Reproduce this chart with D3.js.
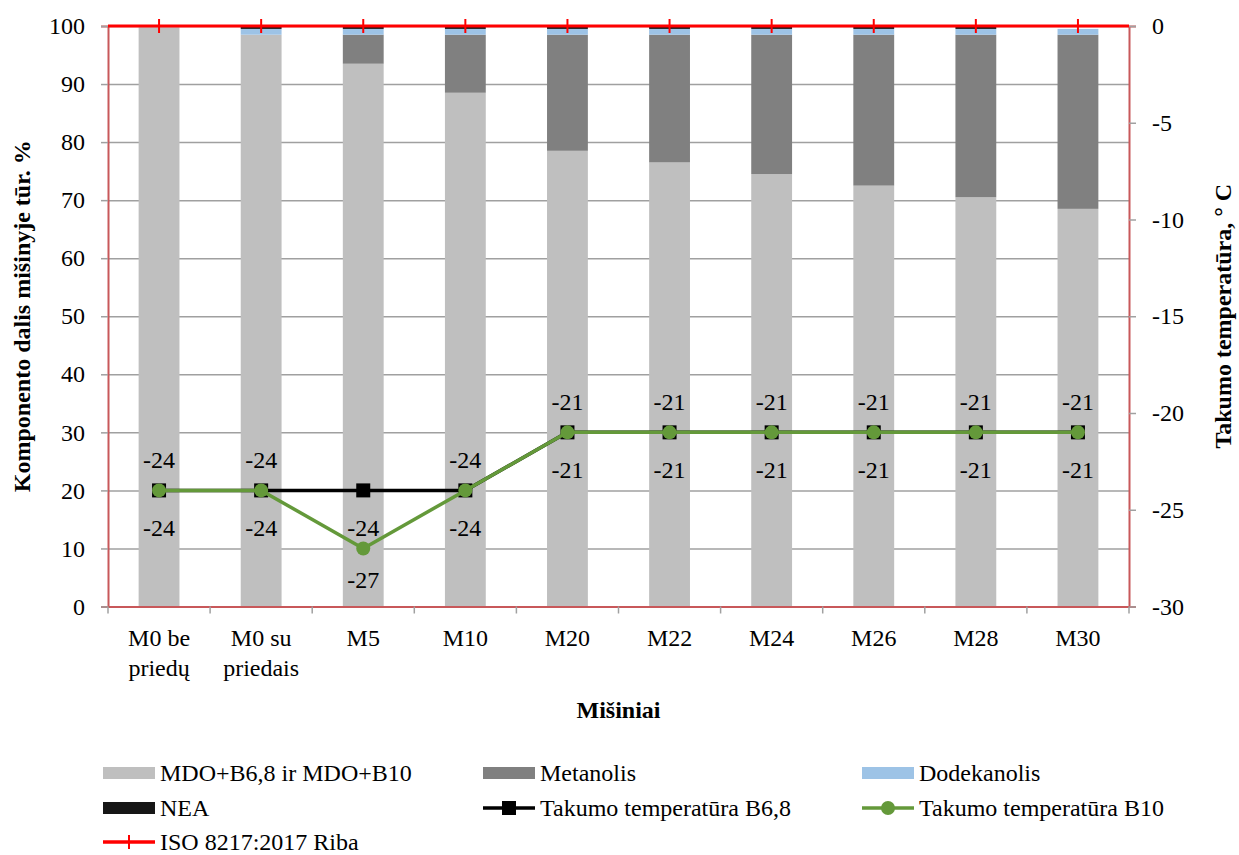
<!DOCTYPE html>
<html><head><meta charset="utf-8">
<script src="https://cdn.jsdelivr.net/npm/d3@7"></script>
<style>
html,body{margin:0;padding:0;background:#fff;}
svg text{font-family:"Liberation Serif","Tinos","Times New Roman","DejaVu Serif",serif !important;fill:#000;}
</style></head>
<body><svg id="c" width="1239" height="855"></svg>
<script>
const categories = ["M0 be priedų","M0 su priedais","M5","M10","M20","M22","M24","M26","M28","M30"];
const categoryLines = [["M0 be","priedų"],["M0 su","priedais"],["M5"],["M10"],["M20"],["M22"],["M24"],["M26"],["M28"],["M30"]];
const mdo = [100, 98.5, 93.5, 88.5, 78.5, 76.5, 74.5, 72.5, 70.5, 68.5];
const metanolis = [0, 0, 5, 10, 20, 22, 24, 26, 28, 30];
const dodekanolis = [0, 1, 1, 1, 1, 1, 1, 1, 1, 1];
const nea = [0.1, 0.5, 0.5, 0.5, 0.5, 0.5, 0.5, 0.5, 0.5, 0];
const tempB68 = [-24, -24, -24, -24, -21, -21, -21, -21, -21, -21];
const tempB10 = [-24, -24, -27, -24, -21, -21, -21, -21, -21, -21];
const isoLimit = [0, 0, 0, 0, 0, 0, 0, 0, 0, 0];
const leftTicks = [0,10,20,30,40,50,60,70,80,90,100];
const rightTicks = [-30,-25,-20,-15,-10,-5,0];
const seriesNames = ["MDO+B6,8 ir MDO+B10","Metanolis","Dodekanolis","NEA","Takumo temperatūra B6,8","Takumo temperatūra B10","ISO 8217:2017 Riba"];

// label placement (style): B6,8 below; B10 above except where below
const b10LabelPos = ["above","above","below","above","above","above","above","above","above","above"];

const FONT = '"Liberation Serif","Tinos","Times New Roman","DejaVu Serif",serif';
const svg = d3.select("#c");
svg.append("rect").attr("width",1239).attr("height",855).attr("fill","#fff");

const L=108, R=1129, T=26, B=606.5;
const FS = 24;
const x = d3.scaleBand().domain(categories).range([L,R]).padding(0);
const yL = d3.scaleLinear().domain([0,100]).range([B,T]);
const yR = d3.scaleLinear().domain([-30,0]).range([B,T]);
const fmt = d=>String(d);

const colors = {mdo:"#bfbfbf", met:"#808080", dod:"#9dc3e6", nea:"#161616", b68:"#000000", b10:"#64993a", iso:"#ff0000", axis:"#c8585a", grid:"#a0a0a0"};

// gridlines
svg.append("g").attr("transform",`translate(${L},0)`)
  .call(d3.axisLeft(yL).tickValues(leftTicks).tickSize(-(R-L)).tickFormat(""))
  .call(g=>g.select(".domain").remove())
  .call(g=>g.selectAll("line").attr("stroke",colors.grid).attr("stroke-width",1.5));

// stacked bars
const rows = categories.map((c,i)=>({cat:c, mdo:mdo[i], met:metanolis[i], dod:dodekanolis[i], nea:nea[i]}));
const keys = ["mdo","met","dod","nea"];
const stack = d3.stack().keys(keys)(rows);
const bw = x.bandwidth()*0.4;
svg.append("g").selectAll("g").data(stack).join("g")
  .attr("fill",d=>({mdo:colors.mdo,met:colors.met,dod:colors.dod,nea:colors.nea})[d.key])
  .selectAll("rect").data(d=>d).join("rect")
  .attr("x",d=>x(d.data.cat)+x.bandwidth()/2-bw/2)
  .attr("width",bw)
  .attr("y",d=>yL(d[1]))
  .attr("height",d=>Math.max(0,yL(d[0])-yL(d[1])));

// left axis
const gl = svg.append("g").attr("transform",`translate(${L},0)`)
  .call(d3.axisLeft(yL).tickValues(leftTicks).tickFormat(fmt).tickSize(7).tickPadding(16));
gl.attr("font-family",FONT);
gl.select(".domain").attr("stroke",colors.axis).attr("stroke-width",2);
gl.selectAll(".tick line").attr("stroke",colors.grid).attr("stroke-width",1.5);
gl.selectAll(".tick text").style("font-size",FS+"px").style("font-family",FONT);

// right axis
const gr = svg.append("g").attr("transform",`translate(${R},0)`)
  .call(d3.axisRight(yR).tickValues(rightTicks).tickFormat(fmt).tickSize(7).tickPadding(16));
gr.attr("font-family",FONT);
gr.select(".domain").attr("stroke",colors.axis).attr("stroke-width",2);
gr.selectAll(".tick line").attr("stroke",colors.grid).attr("stroke-width",1.5);
gr.selectAll(".tick text").style("font-size",FS+"px").style("font-family",FONT);

// bottom axis
const gb = svg.append("g").attr("transform",`translate(0,${B})`)
  .call(d3.axisBottom(x).tickSize(0).tickFormat(""));
gb.select(".domain").attr("stroke",colors.axis).attr("stroke-width",2);
const bounds = categories.map(c=>x(c)).concat([R]);
svg.append("g").selectAll("line").data(bounds).join("line")
  .attr("x1",d=>d).attr("x2",d=>d).attr("y1",B).attr("y2",B+7)
  .attr("stroke",colors.grid).attr("stroke-width",1.5);
const cl = svg.append("g").selectAll("text").data(categories).join("text")
  .attr("x",d=>x(d)+x.bandwidth()/2).attr("y",B+39)
  .attr("text-anchor","middle").style("font-size",FS+"px").style("font-family",FONT);
cl.each(function(d,i){
  const t=d3.select(this);
  categoryLines[i].forEach((ln,j)=>{
    t.append("tspan").attr("x",x(d)+x.bandwidth()/2).attr("dy",j?30:0).text(ln);
  });
});

// axis titles
svg.append("text").attr("transform",`translate(30,${(T+B)/2}) rotate(-90)`)
  .attr("text-anchor","middle").style("font-size",FS+"px").style("font-weight","bold").style("font-family",FONT)
  .text("Komponento dalis mišinyje tūr. %");
svg.append("text").attr("transform",`translate(1231,${(T+B)/2}) rotate(-90)`)
  .attr("text-anchor","middle").style("font-size",FS+"px").style("font-weight","bold").style("font-family",FONT)
  .text("Takumo temperatūra, ° C");
svg.append("text").attr("x",(L+R)/2).attr("y",718)
  .attr("text-anchor","middle").style("font-size",FS+"px").style("font-weight","bold").style("font-family",FONT)
  .text("Mišiniai");

const cx = c=>x(c)+x.bandwidth()/2;
const line = d3.line().x(d=>cx(d.c)).y(d=>yR(d.v));
const ptsB68 = categories.map((c,i)=>({c,v:tempB68[i]}));
const ptsB10 = categories.map((c,i)=>({c,v:tempB10[i]}));
const ptsIso = categories.map((c,i)=>({c,v:isoLimit[i]}));

svg.append("path").datum(ptsB68).attr("d",line).attr("fill","none").attr("stroke",colors.b68).attr("stroke-width",3.5);
svg.append("g").selectAll("rect").data(ptsB68).join("rect")
  .attr("x",d=>cx(d.c)-7).attr("y",d=>yR(d.v)-7).attr("width",14).attr("height",14).attr("fill",colors.b68);
svg.append("path").datum(ptsB10).attr("d",line).attr("fill","none").attr("stroke",colors.b10).attr("stroke-width",3.5);
svg.append("g").selectAll("circle").data(ptsB10).join("circle")
  .attr("cx",d=>cx(d.c)).attr("cy",d=>yR(d.v)).attr("r",7).attr("fill",colors.b10);

svg.append("g").selectAll("text").data(ptsB68).join("text")
  .attr("x",d=>cx(d.c)).attr("y",d=>yR(d.v)+37).attr("dy","0.35em")
  .attr("text-anchor","middle").style("font-size",FS+"px").style("font-family",FONT).text(d=>fmt(d.v));
svg.append("g").selectAll("text").data(ptsB10).join("text")
  .attr("x",d=>cx(d.c)).attr("y",(d,i)=>yR(d.v)+(b10LabelPos[i]==="above"?-31:31)).attr("dy","0.35em")
  .attr("text-anchor","middle").style("font-size",FS+"px").style("font-family",FONT).text(d=>fmt(d.v));

svg.append("line").attr("x1",L).attr("x2",R).attr("y1",yR(0)).attr("y2",yR(0))
  .attr("stroke",colors.iso).attr("stroke-width",3);
svg.append("g").selectAll("line").data(ptsIso).join("line")
  .attr("x1",d=>cx(d.c)).attr("x2",d=>cx(d.c)).attr("y1",d=>yR(d.v)-7).attr("y2",d=>yR(d.v)+7)
  .attr("stroke",colors.iso).attr("stroke-width",2);

const leg = [
  {name:seriesNames[0], type:"bar", color:colors.mdo, x:103, y:773},
  {name:seriesNames[1], type:"bar", color:colors.met, x:483, y:773},
  {name:seriesNames[2], type:"bar", color:colors.dod, x:862, y:773},
  {name:seriesNames[3], type:"bar", color:colors.nea, x:103, y:808},
  {name:seriesNames[4], type:"sq", color:colors.b68, x:483, y:808},
  {name:seriesNames[5], type:"circ", color:colors.b10, x:862, y:808},
  {name:seriesNames[6], type:"iso", color:colors.iso, x:103, y:842}
];
const lg = svg.append("g").selectAll("g").data(leg).join("g").attr("transform",d=>`translate(${d.x},${d.y})`);
lg.each(function(d){
  const g=d3.select(this);
  if(d.type==="bar"){
    g.append("rect").attr("x",0).attr("y",-6).attr("width",52).attr("height",12).attr("fill",d.color);
  } else {
    g.append("line").attr("x1",0).attr("x2",52).attr("y1",0).attr("y2",0).attr("stroke",d.color).attr("stroke-width",3.5);
    if(d.type==="sq") g.append("rect").attr("x",19).attr("y",-7).attr("width",14).attr("height",14).attr("fill",d.color);
    if(d.type==="circ") g.append("circle").attr("cx",26).attr("cy",0).attr("r",7).attr("fill",d.color);
    if(d.type==="iso") g.append("line").attr("x1",26).attr("x2",26).attr("y1",-7).attr("y2",7).attr("stroke",d.color).attr("stroke-width",2);
  }
  g.append("text").attr("x",57).attr("y",0).attr("dy","0.35em").style("font-size","24px").style("font-family",FONT).text(d.name);
});
</script></body></html>
